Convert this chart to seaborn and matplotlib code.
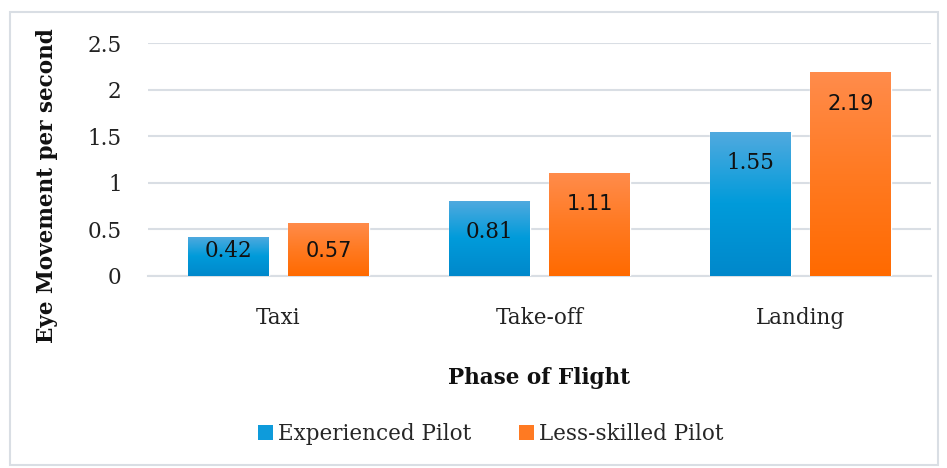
import numpy as np
import pandas as pd
import matplotlib
matplotlib.use("Agg")
import matplotlib.pyplot as plt
import seaborn as sns
from matplotlib.colors import LinearSegmentedColormap
from matplotlib.patches import Rectangle

phases = ["Taxi", "Take-off", "Landing"]
experienced = [0.42, 0.81, 1.55]
less_skilled = [0.57, 1.11, 2.19]
series_names = ["Experienced Pilot", "Less-skilled Pilot"]
yticks = [0, 0.5, 1, 1.5, 2, 2.5]
ytick_labels = ["0", "0.5", "1", "1.5", "2", "2.5"]

df = pd.DataFrame({
    "Phase": phases * 2,
    "Value": experienced + less_skilled,
    "Pilot": [series_names[0]] * 3 + [series_names[1]] * 3,
})

sns.set_theme(style="white")
plt.rcParams["font.family"] = ["DejaVu Serif", "Liberation Serif"]

FS = 15.5
fig = plt.figure(figsize=(9.47, 4.68), dpi=100)
ax = fig.add_axes([148 / 947, 1 - 276 / 468, (931 - 148) / 947, (276 - 43) / 468 * 1.0])

base_colors = {series_names[0]: "#0E9BDB", series_names[1]: "#FF7A22"}
sns.barplot(data=df, x="Phase", y="Value", hue="Pilot", order=phases,
            hue_order=series_names, palette=base_colors, width=0.766, gap=0.19,
            ax=ax, legend=False, zorder=3)

ax.set_ylim(0, 2.5)
ax.set_xlim(-0.5, 2.5)
ax.set_yticks(yticks)
ax.set_yticklabels(ytick_labels, fontsize=FS, color="#222222")
ax.tick_params(axis="y", length=0, pad=19)
ax.tick_params(axis="x", length=0, pad=22, labelsize=FS, labelcolor="#222222")
for s in ["top", "right", "left"]:
    ax.spines[s].set_visible(False)
ax.spines["bottom"].set_color("#D9DEE4")
ax.spines["bottom"].set_linewidth(1.5)
ax.yaxis.grid(True, color="#D9DEE4", linewidth=1.5, zorder=0)
ax.set_axisbelow(True)

grads = {
    series_names[0]: LinearSegmentedColormap.from_list("b", ["#0088CB", "#009BDA", "#52AADF"]),
    series_names[1]: LinearSegmentedColormap.from_list("o", ["#FF6A00", "#FF7A22", "#FF8C4C"]),
}
grad_img = np.linspace(0, 1, 256).reshape(-1, 1)
patches = list(ax.patches)
order_names = [series_names[0]] * 3 + [series_names[1]] * 3
for p, name, val in zip(patches, order_names, experienced + less_skilled):
    x0, w, h = p.get_x(), p.get_width(), p.get_height()
    im = ax.imshow(grad_img, cmap=grads[name], aspect="auto", origin="lower",
                   extent=[x0, x0 + w, 0, h], zorder=4)
    im.set_clip_path(p)
    fam = ["DejaVu Serif"] if name == series_names[0] else ["DejaVu Sans"]
    fs = FS if name == series_names[0] else 15
    ax.text(x0 + w / 2, max(h - 0.34, 0.27), f"{val:.2f}", ha="center", va="center",
            fontsize=fs, family=fam, color="#111111", zorder=6)
ax.set_xlim(-0.5, 2.5)
ax.set_ylim(0, 2.5)

ax.set_xlabel("Phase of Flight", fontsize=FS, fontweight="bold", labelpad=28, color="#111111")
ax.set_ylabel("Eye Movement per second", fontsize=FS, fontweight="bold", color="#111111")
ax.yaxis.set_label_coords(-0.115, 0.39)

handles = [Rectangle((0, 0), 1, 1, facecolor=base_colors[n], edgecolor="none") for n in series_names]
fig.legend(handles, series_names, loc="center", bbox_to_anchor=(491 / 947, 1 - 434 / 468),
           ncol=2, frameon=False, fontsize=FS, handlelength=0.7, handleheight=0.7,
           handletextpad=0.23, columnspacing=2.2)

fig.add_artist(Rectangle((10 / 947, 3 / 468), 928 / 947, 453 / 468, transform=fig.transFigure,
                         fill=False, edgecolor="#D9DEE4", linewidth=1.5))

fig.savefig("out.png", dpi=100)
